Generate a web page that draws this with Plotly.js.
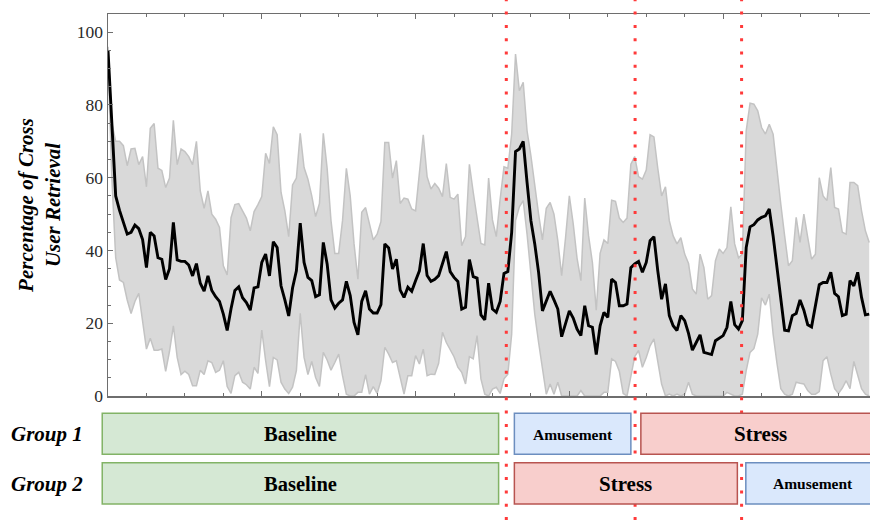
<!DOCTYPE html>
<html>
<head>
<meta charset="utf-8">
<script src="https://cdn.plot.ly/plotly-3.0.1.min.js"></script>
<style>html,body{margin:0;padding:0;background:#fff;}#chart{width:870px;height:523px;}</style>
</head>
<body>
<div id="chart"></div>
<script>
// ---- data ----
var meanValues = [95,73,55,51,48,44.5,45,47,46,43,35.3,45,44,38,37.6,32,35,47.7,37.4,37,37,36,33,36.4,31,28.8,33,29,27.3,26,22.5,18,24,29,30,27,25.7,23.6,29.7,30,36.7,39,33,42.4,40.8,30.3,26.4,22,29.7,34.4,
47.5,36.7,32.6,31.7,27.3,27.8,42.2,36.3,26.4,24.2,25.5,26.4,31.5,27.6,20.2,16.8,26,28.9,23.9,22.8,22.8,25.1,41.8,40.7,34.9,37.6,29.1,27.1,29.9,28.8,31.7,34.4,41.9,33.1,31.5,32.1,33.1,36.3,39.7,34.2,32.6,31.5,23.9,24.4,37.5,32.8,32.4,22.3,20.9,31,
23.9,23,26,33.7,34.2,45,67.2,67.9,70,58.7,48.2,41.8,34,23.4,26,28.8,26.4,23.9,16.3,20,23.4,21.4,18.4,16.6,24.8,19.3,18.9,11.4,19.3,23,21.6,32.1,31.2,24.8,24.8,25.3,35.3,36.3,37,34,36.7,42.7,43.8,34.4,26.6,30.8,22.1,19.3,
18,22.1,20.7,17.2,12.6,14.7,16.8,12,11.7,11.4,15.2,15.9,16.6,18.9,26,19.6,18.4,20.7,40.8,46.5,47.1,48.4,49.1,49.5,51.4,44,34.9,26,18.1,17.9,22.1,22.7,26.4,23.6,19.6,19,24.5,30.6,31.2,31.2,34,28.2,27.3,22.1,22.5,31.7,30.3,34,27.1,22.3,22.5];

var upperValues = [96,75,70,70,68.8,63.3,67.9,68.1,63.6,65.8,57.5,73.6,74.9,62.6,62,57.3,59.9,75.8,63.6,67.9,67.2,65.8,63.6,70,56.4,51.6,56.4,50,48.6,46.3,35.8,33.3,49,52.6,52.9,50.7,48.9,45.4,50.7,52.6,54.8,66.7,63.9,74,71.8,56,50.9,43.8,58,59.9,
72.2,62.8,59.6,55,49.3,52.9,72.2,62.6,48.2,39.2,39.2,48.2,62.6,55,41.8,32.1,50.5,51.8,47.4,42.9,44.5,48,69.7,69.7,59.9,64.7,52.9,54.4,54.1,51.4,50.9,61,71.8,60.3,56.9,58.4,57.1,54.8,63.9,54.6,54.1,55.5,41.3,43.8,63.7,56,49.1,41.9,41.5,59.9,
48.4,43.8,54.1,63,62.6,72,94,83.9,86.2,72.9,66,57.3,50,42.9,51.6,53.2,50,42.7,33.1,43.4,55,47.4,37.9,31.7,54.4,44,36.7,23.6,39.2,42.9,41.9,53.8,53.5,48.9,47.7,48.9,63.7,65.8,60.3,59.6,62.1,71.8,71.2,62.6,55,57.5,48.2,44,
41.8,43.5,39,36.4,29.4,28,39,35.3,26.6,27.6,37.2,40.4,39.2,40.8,52,41.8,38,39,72.9,80.5,80.2,78.4,73.8,72,74.7,72,61.9,52.7,44,35.8,37.2,49.1,42.2,50,43.6,37.6,39,60,55,53.7,62.8,51.8,51.4,45,44.5,58.7,58.7,57.8,50.9,45.4,42.2];

var lowerValues = [92,60,38,31.9,31.2,26.4,22.7,26,28.2,20.9,12.9,15.9,12.6,12.6,12.9,6.8,12.3,19.3,10.6,5.9,6.8,5.9,2.8,2.8,7.1,5.9,9.7,9.2,6.5,7.1,9.7,2.6,0.7,5.6,6.5,3.8,3.1,1.9,7.9,6.2,18.1,9.7,2.6,10.6,9.9,3.8,1.9,0.7,2.4,7,
22.7,10.6,5.9,9.5,5.1,2.6,12,9.9,7.1,9.2,11.5,5.6,0.5,0,0,1,1,5.9,0.5,2.6,0.7,4.2,13.4,11.5,9.2,9.7,4.7,0.5,5.6,5.6,11.1,8.8,12.9,5.6,6,5.9,9,17.5,14.7,12.6,10.8,7.9,6.5,3.3,10.8,10.2,16.6,4.7,0.5,0,
1.9,2.4,0.7,4.7,6,17,48.2,52,53.7,44.5,32.6,22.5,14.7,7.1,0.5,3.3,0.5,3.8,0,0,0,0,0,1.5,0,0,0,0,0,1,1,10.2,9.5,6.8,0.7,0,6,10.8,12.5,7.9,10.6,13.8,15.7,9.7,3.3,0,0.5,0,
0.5,0,0.5,3.8,0.5,0,0,0,0,0,0,0,0,1,0.5,0,0,0.5,7,12,13,17,27,25,28,17,9,2,0.5,0,0.5,3.8,3.5,3.3,1.5,0.5,0.5,1.2,9.7,10.8,6,2,0.7,2.2,4.2,2,9.5,6,2,0.5,0];

var windowIndex = meanValues.map(function (_, i) { return i; });

// phase change points (window index)
var phaseChanges = [103.6, 137.1, 164.8];

// protocol of each group: phase names and their span in window index
var groupNames = ['Group 1', 'Group 2'];
var group1Phases = ['Baseline', 'Amusement', 'Stress'];
var group1Start = [-1.5, 105.7, 138.6];
var group1End = [101.6, 136.0, 201];
var group2Phases = ['Baseline', 'Stress', 'Amusement'];
var group2Start = [-1.5, 105.7, 165.9];
var group2End = [101.6, 163.7, 201];

var yTickValues = [0, 20, 40, 60, 80, 100];

// ---- styles ----
var X_RANGE = [0, 198.2];
var SERIF = 'Liberation Serif, Times New Roman, serif';
var phaseStyle = {
  'Baseline': {fill: '#d5e8d4', line: '#82b366', size: 20.5},
  'Amusement': {fill: '#dae8fc', line: '#6c8ebf', size: 15.5},
  'Stress': {fill: '#f8cecc', line: '#b85450', size: 21}
};
var rowY = [{y0: -0.0453, y1: -0.1526, yc: -0.0995}, {y0: -0.1746, y1: -0.2827, yc: -0.2292}];
// window index -> fraction of the x axis (so the boxes may extend past the plot edge unclipped)
function toPaper(v) { return (v - X_RANGE[0]) / (X_RANGE[1] - X_RANGE[0]); }

var traces = [
  {x: windowIndex, y: lowerValues, type: 'scatter', mode: 'lines',
   line: {color: '#c3c3c3', width: 1.5}, hoverinfo: 'skip', showlegend: false},
  {x: windowIndex, y: upperValues, type: 'scatter', mode: 'lines', fill: 'tonexty',
   fillcolor: '#d9d9d9', line: {color: '#c3c3c3', width: 1.5}, hoverinfo: 'skip', showlegend: false},
  {x: windowIndex, y: meanValues, type: 'scatter', mode: 'lines',
   line: {color: '#000000', width: 2.9}, showlegend: false}
];

var shapes = [];
var annotations = [];

phaseChanges.forEach(function (v) {
  shapes.push({type: 'line', xref: 'x', yref: 'paper', x0: v, x1: v, y0: -0.3246, y1: 1.0366,
    line: {color: '#ff3a3a', width: 3, dash: '3px,10.3px'}, layer: 'above'});
});

function addGroup(row, names, starts, ends) {
  for (var k = 0; k < names.length; k++) {
    var st = phaseStyle[names[k]];
    shapes.push({type: 'rect', xref: 'paper', yref: 'paper', x0: toPaper(starts[k]), x1: toPaper(ends[k]),
      y0: rowY[row].y0, y1: rowY[row].y1, fillcolor: st.fill,
      line: {color: st.line, width: 1.5}, layer: 'above'});
    annotations.push({xref: 'x', yref: 'paper', x: (starts[k] + ends[k]) / 2, y: rowY[row].yc,
      text: '<b>' + names[k] + '</b>', showarrow: false, xanchor: 'center', yanchor: 'middle',
      font: {family: SERIF, size: st.size, color: '#000'}});
  }
  annotations.push({xref: 'paper', yref: 'paper', x: -0.0794, y: rowY[row].yc,
    text: '<b><i>' + groupNames[row] + '</i></b>', showarrow: false, xanchor: 'center', yanchor: 'middle',
    font: {family: SERIF, size: 21, color: '#000'}});
}
addGroup(0, group1Phases, group1Start, group1End);
addGroup(1, group2Phases, group2Start, group2End);

var axisColor = '#6e6e6e';
var layout = {
  width: 870, height: 523,
  margin: {l: 108, r: 0, t: 14, b: 127, pad: 0},
  paper_bgcolor: '#ffffff', plot_bgcolor: '#ffffff',
  showlegend: false,
  xaxis: {
    range: X_RANGE, showgrid: false, zeroline: false,
    showline: true, linecolor: axisColor, linewidth: 1.5, mirror: 'ticks',
    ticks: 'inside', ticklen: 5, tickwidth: 1, tickcolor: axisColor,
    tick0: 0, dtick: 40, showticklabels: false,
    minor: {dtick: 10, tick0: 0, ticks: 'inside', ticklen: 3, tickwidth: 1, tickcolor: axisColor, showgrid: false}
  },
  yaxis: {
    range: [0, 105], showgrid: false, zeroline: false,
    showline: true, linecolor: axisColor, linewidth: 1.5,
    ticks: 'inside', ticklen: 5, tickwidth: 1, tickcolor: axisColor,
    tickmode: 'array', tickvals: yTickValues, ticktext: yTickValues.map(String),
    tickfont: {family: SERIF, size: 17.5, color: '#2a2a2a'},
    minor: {dtick: 5, tick0: 0, ticks: 'inside', ticklen: 3, tickwidth: 1, tickcolor: axisColor, showgrid: false},
    title: {text: '<b><i>Percentage of Cross<br>User Retrieval</i></b>', standoff: 10,
      font: {family: SERIF, size: 21, color: '#000'}}
  },
  shapes: shapes,
  annotations: annotations
};

Plotly.newPlot('chart', traces, layout, {displayModeBar: false, staticPlot: true});
</script>
</body>
</html>
